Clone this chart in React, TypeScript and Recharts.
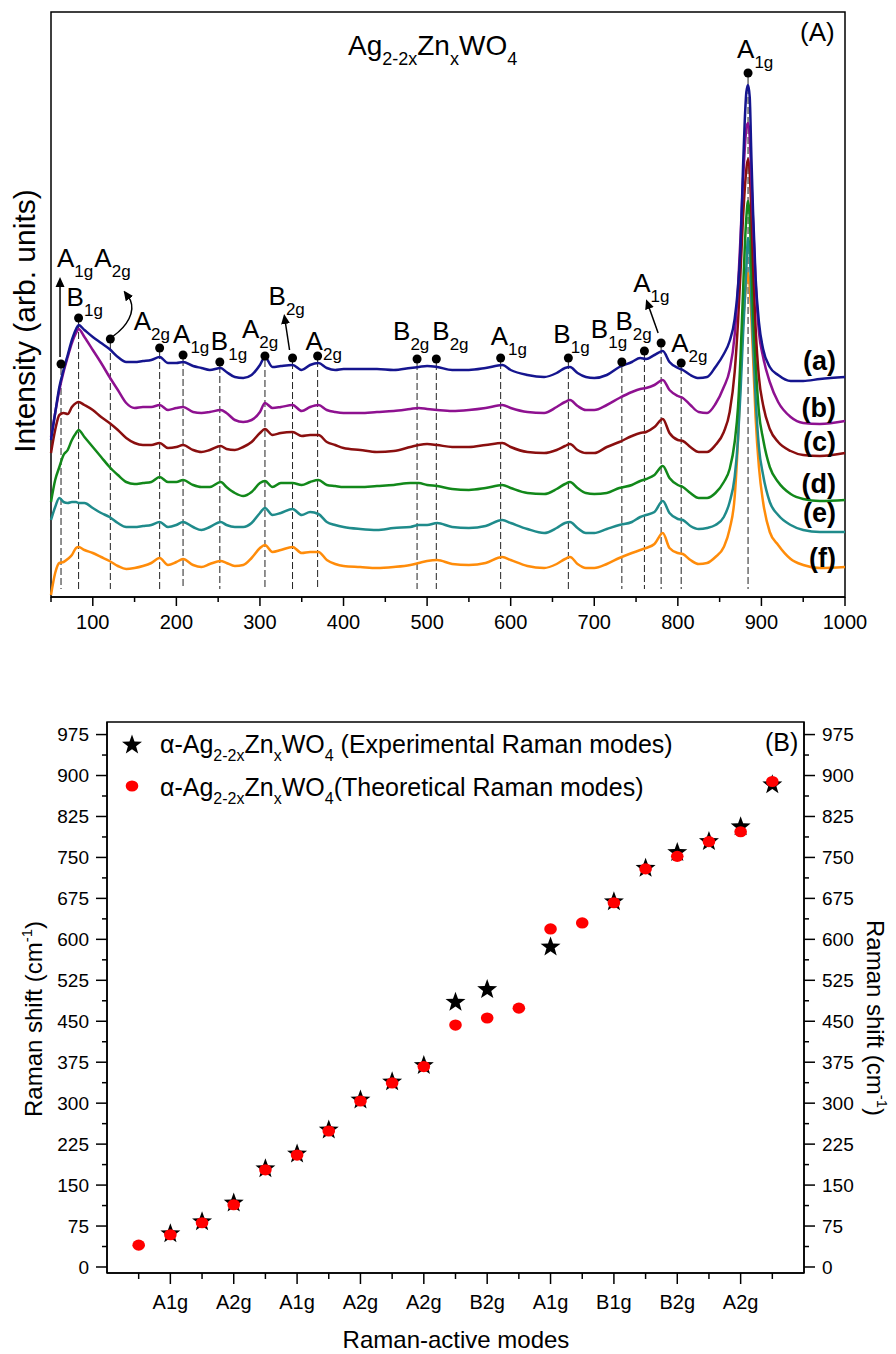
import React from "react"
import {
  LineChart,
  Line,
  XAxis,
  YAxis,
  ReferenceLine,
  ReferenceDot,
  ReferenceArea,
  ScatterChart,
  Scatter,
} from "recharts"

// ---------- panel (A): Raman spectra ----------
const shift = [
  50, 55, 60, 65, 70, 75, 80, 83, 90,
  100, 110, 120, 130, 140, 150, 160, 170, 180, 190, 200,
  208, 220, 230, 240, 253, 260, 270, 280, 290, 300,
  306, 315, 325, 339, 350, 360, 370, 380, 390, 400,
  420, 440, 460, 480, 490, 500, 512, 530, 550, 570,
  590, 600, 620, 640, 655, 665, 671, 680, 690, 700,
  715, 730, 745, 755, 762, 772, 782, 790, 800, 806,
  815, 825, 835, 845, 855, 862, 868, 872, 875, 878,
  880, 882, 884, 886, 888, 890, 893, 897, 902, 910,
  920, 935, 950, 970, 1000,
]

const curveA = [
  157, 184, 210, 227, 242, 257, 268, 272, 267,
  260, 254, 248, 240, 235, 235, 236, 237, 240, 234, 234,
  235, 231, 229, 227, 229, 225, 220, 219, 222, 232,
  240, 230, 231, 232, 227, 232, 234, 229, 227, 228,
  228, 228, 227, 229, 230, 231, 230, 227, 227, 229,
  232, 227, 222, 220, 224, 229, 230, 224, 220, 219,
  222, 230, 235, 239, 238, 242, 246, 235, 229, 227,
  222, 219, 220, 230, 243, 256, 278, 310, 350, 430,
  475, 505, 512, 500, 440, 385, 320, 275, 248, 230,
  222, 216, 216, 218, 220,
]

const curveB = [
  160, 184, 207, 225, 240, 254, 264, 268, 260,
  247, 234, 220, 207, 194, 189, 190, 190, 192, 187, 189,
  190, 185, 184, 185, 187, 184, 177, 175, 177, 185,
  194, 189, 190, 192, 186, 190, 192, 187, 185, 184,
  184, 185, 186, 188, 189, 188, 187, 186, 187, 189,
  192, 189, 185, 184, 190, 195, 197, 191, 187, 187,
  192, 199, 205, 208, 209, 212, 217, 207, 201, 199,
  192, 185, 184, 193, 210, 227, 262, 310, 360, 417,
  447, 469, 474, 460, 417, 375, 315, 265, 240, 215,
  195, 180, 174, 173, 176,
]

const curveC = [
  144, 167, 182, 184, 183, 190, 194, 195, 192,
  187, 180, 174, 167, 159, 154, 152, 152, 154, 149, 150,
  152, 147, 145, 147, 151, 148, 147, 150, 155, 164,
  168, 162, 164, 165, 161, 162, 162, 155, 152, 149,
  147, 145, 146, 150, 152, 153, 152, 150, 150, 152,
  154, 150, 145, 144, 147, 151, 153, 147, 144, 144,
  150, 155, 161, 164, 165, 170, 178, 164, 157, 156,
  150, 145, 145, 152, 165, 185, 225, 275, 325, 380,
  407, 428, 438, 425, 382, 330, 270, 220, 192, 168,
  155, 146, 142, 141, 144,
]

const curveD = [
  95, 117, 130, 142, 147, 157, 164, 167, 160,
  150, 140, 130, 122, 115, 113, 114, 115, 120, 115, 115,
  117, 112, 110, 110, 115, 110, 104, 101, 105, 114,
  116, 110, 114, 114, 112, 115, 117, 112, 111, 110,
  110, 111, 112, 114, 114, 112, 111, 108, 107, 109,
  112, 109, 104, 103, 108, 113, 115, 109, 104, 103,
  104, 109, 112, 116, 118, 122, 131, 119, 112, 110,
  104, 99, 99, 104, 115, 128, 155, 190, 240, 305,
  348, 380, 396, 380, 331, 285, 235, 185, 158, 130,
  115, 103, 98, 96, 97,
]

const curveE = [
  77, 90, 99, 95, 94, 95, 95, 94, 94,
  89, 84, 80, 74, 70, 70, 71, 72, 75, 70, 72,
  75, 70, 67, 70, 75, 72, 70, 70, 74, 84,
  89, 82, 84, 88, 82, 85, 83, 75, 72, 70,
  68, 67, 69, 70, 72, 72, 74, 70, 69, 71,
  77, 74, 68, 64, 69, 74, 75, 69, 64, 64,
  68, 72, 75, 80, 82, 85, 96, 84, 78, 77,
  71, 68, 69, 72, 80, 95, 120, 158, 205, 262,
  295, 330, 359, 345, 296, 255, 200, 150, 122, 95,
  82, 72, 67, 65, 65,
]

const curveF = [
  2, 24, 34, 35, 38, 42, 49, 50, 47,
  44, 40, 36, 31, 28, 29, 31, 34, 39, 32, 35,
  38, 32, 30, 33, 36, 34, 31, 32, 39, 49,
  52, 45, 47, 50, 44, 45, 45, 37, 33, 31,
  30, 29, 30, 32, 34, 36, 37, 33, 32, 34,
  40, 37, 31, 29, 33, 38, 40, 33, 29, 29,
  33, 39, 44, 47, 49, 53, 64, 49, 44, 43,
  37, 33, 34, 40, 50, 68, 100, 158, 220, 275,
  296, 315, 324, 310, 280, 240, 180, 130, 95, 65,
  52, 38, 32, 29, 30,
]

const shiftTicks = [50, 100, 150, 200, 250, 300, 350, 400, 450, 500, 550, 600, 650, 700, 750, 800, 850, 900, 950, 1000]

// assigned modes marked on spectrum (a)
const modeShift = [62, 83, 121, 180, 208, 252, 306, 339, 369, 488, 511, 588, 669, 733, 760, 780, 804, 884]
const modeMark = [233, 279, 258, 249, 242, 235, 241, 239, 241, 238, 238, 239, 239, 235, 246, 254, 234, 524]
const modeName = ["A1g", "B1g", "A2g", "A2g", "A1g", "B1g", "A2g", "B2g", "A2g", "B2g", "B2g", "A1g", "B1g", "B1g", "B2g", "A1g", "A2g", "A1g"]

// ---------- panel (B): experimental vs theoretical ----------
const modeTickLabels = ["A1g", "A2g", "A1g", "A2g", "A2g", "B2g", "A1g", "B1g", "B2g", "A2g"]
const theoIndex = [1, 2, 3, 4, 5, 6, 7, 8, 9, 10, 11, 12, 13, 14, 15, 16, 17, 18, 19, 20, 21]
const theoShift = [40, 59, 81, 114, 178, 205, 249, 304, 337, 367, 443, 456, 474, 619, 630, 667, 729, 752, 779, 797, 889]
const expIndex = [2, 3, 4, 5, 6, 7, 8, 9, 10, 11, 12, 14, 16, 17, 18, 19, 20, 21]
const expShift = [61, 83, 117, 180, 207, 251, 306, 339, 369, 485, 508, 586, 669, 730, 759, 779, 806, 883]
const shiftAxisTicks = [0, 37.5, 75, 112.5, 150, 187.5, 225, 262.5, 300, 337.5, 375, 412.5, 450, 487.5, 525, 562.5, 600, 637.5, 675, 712.5, 750, 787.5, 825, 862.5, 900, 937.5, 975]
const modeAxisTicks = [1, 2, 3, 4, 5, 6, 7, 8, 9, 10, 11, 12, 13, 14, 15, 16, 17, 18, 19, 20, 21]

const spectra = shift.map((x, i) => ({
  x,
  a: curveA[i],
  b: curveB[i],
  c: curveC[i],
  d: curveD[i],
  e: curveE[i],
  f: curveF[i],
}))
const theoData = theoIndex.map((x, i) => ({ x, y: theoShift[i] }))
const expData = expIndex.map((x, i) => ({ x, y: expShift[i] }))

const FONT = "'Liberation Sans', Arial, Helvetica, sans-serif"
const colors = { a: "#15158f", b: "#8e1190", c: "#8a0f0f", d: "#12881a", e: "#1f8b8b", f: "#ff8c0a" }

// label placement for the mode annotations (pixel offsets from each dot)
const labelOffset = [
  [-4, -97], [-12, -12], [-16, -72], [-26, -18], [-10, -12], [-9, -12], [-23, -18], [-24, -53], [-12, -6],
  [-24, -19], [-4, -19], [-10, -13], [-15, -15], [-31, -24], [-29, -21], [-28, -51], [-10, -11], [-11, -15],
]
const arrowPath: Record<number, string> = {
  0: "M -1 -7 L -1 -84",
  2: "M 3 -3 C 17 -13 25 -27 20 -39 L 15 -46",
  7: "M -3 -8 L -8 -41",
  15: "M -3 -10 L -14 -41",
}

function ModeMark(props: any) {
  const { cx, cy, idx } = props
  if (cx == null || cy == null) return null
  const name: string = modeName[idx]
  const [dx, dy] = labelOffset[idx]
  const arrow = arrowPath[idx]
  return (
    <g>
      {arrow && (
        <>
          <defs>
            <marker id={`ah${idx}`} markerWidth={10} markerHeight={10} refX={7} refY={5} orient="auto" markerUnits="userSpaceOnUse">
              <path d="M0,0.5 L10,5 L0,9.5 z" fill="#000" />
            </marker>
          </defs>
          <path
            d={arrow}
            transform={`translate(${cx},${cy})`}
            fill="none"
            stroke="#000"
            strokeWidth={1.5}
            markerEnd={`url(#ah${idx})`}
          />
        </>
      )}
      <circle cx={cx} cy={cy} r={4.5} fill="#000" />
      <text x={cx + dx} y={cy + dy} fontSize={26} fill="#000" fontFamily={FONT}>
        {name[0]}
        <tspan dy={10} fontSize={17}>{name.slice(1)}</tspan>
      </text>
    </g>
  )
}

function TopTick(props: any) {
  const { x, y, payload } = props
  const v = payload.value
  const major = v % 100 === 0
  return (
    <g>
      <line x1={x} y1={y} x2={x} y2={y + (major ? 9 : 5)} stroke="#000" strokeWidth={1.5} />
      {major && (
        <text x={x} y={y + 32} textAnchor="middle" fontSize={20} fill="#000" fontFamily={FONT}>
          {v}
        </text>
      )}
    </g>
  )
}

function ModeTick(props: any) {
  const { x, y, payload } = props
  const v = payload.value
  const major = v % 2 === 0
  return (
    <g>
      <line x1={x} y1={y} x2={x} y2={y + (major ? 11 : 6)} stroke="#000" strokeWidth={1.5} />
      {major && (
        <text x={x} y={y + 36} textAnchor="middle" fontSize={20} fill="#000" fontFamily={FONT}>
          {modeTickLabels[v / 2 - 1]}
        </text>
      )}
    </g>
  )
}

function LeftTick(props: any) {
  const { x, y, payload } = props
  const v = payload.value
  const major = v % 75 === 0
  return (
    <g>
      <line x1={x - (major ? 11 : 5)} y1={y} x2={x} y2={y} stroke="#000" strokeWidth={1.5} />
      {major && (
        <text x={x - 18} y={y} dy="0.36em" textAnchor="end" fontSize={19} fill="#000" fontFamily={FONT}>
          {v}
        </text>
      )}
    </g>
  )
}

function RightTick(props: any) {
  const { x, y, payload } = props
  const v = payload.value
  const major = v % 75 === 0
  return (
    <g>
      <line x1={x} y1={y} x2={x + (major ? 11 : 5)} y2={y} stroke="#000" strokeWidth={1.5} />
      {major && (
        <text x={x + 18} y={y} dy="0.36em" textAnchor="start" fontSize={19} fill="#000" fontFamily={FONT}>
          {v}
        </text>
      )}
    </g>
  )
}

function starPoints(cx: number, cy: number, R: number, r: number) {
  const pts: string[] = []
  for (let k = 0; k < 10; k++) {
    const ang = -Math.PI / 2 + (k * Math.PI) / 5
    const rad = k % 2 === 0 ? R : r
    pts.push(`${cx + rad * Math.cos(ang)},${cy + rad * Math.sin(ang)}`)
  }
  return pts.join(" ")
}

const StarShape = (props: any) => <polygon points={starPoints(props.cx, props.cy, 10.5, 4.3)} fill="#000" />
const RedDot = (props: any) => <ellipse cx={props.cx} cy={props.cy} rx={6.3} ry={5.6} fill="#ff0000" />

function Formula({ x, y, size, sub, tail }: { x: number; y: number; size: number; sub: number; tail: string }) {
  return (
    <text x={x} y={y} fontSize={size} fill="#000" fontFamily={FONT}>
      α-Ag<tspan dy={8} fontSize={sub}>2-2x</tspan>
      <tspan dy={-8}>Zn</tspan>
      <tspan dy={8} fontSize={sub}>x</tspan>
      <tspan dy={-8}>WO</tspan>
      <tspan dy={8} fontSize={sub}>4</tspan>
      <tspan dy={-8}>{tail}</tspan>
    </text>
  )
}

export default function App() {
  return (
    <div style={{ position: "absolute", left: 0, top: 0, width: 896, height: 1354, background: "#fff", fontFamily: FONT }}>
      {/* (A) spectra */}
      <div style={{ position: "absolute", left: 0, top: 0 }}>
        <LineChart width={896} height={645} data={spectra} margin={{ top: 12, right: 51, bottom: 8, left: 51 }}>
          <XAxis
            dataKey="x"
            type="number"
            domain={[50, 1000]}
            ticks={shiftTicks}
            interval={0}
            height={40}
            tickSize={0}
            tickMargin={0}
            tickLine={false}
            axisLine={{ stroke: "#000", strokeWidth: 1.5 }}
            tick={(p: any) => <TopTick {...p} />}
          />
          <YAxis type="number" domain={[0, 585]} hide />
          <ReferenceArea x1={50} x2={1000} y1={0} y2={585} fill="none" stroke="#000" strokeWidth={1.5} ifOverflow="visible" />
          {modeShift.map((m, i) => (
            <ReferenceLine
              key={`dl${i}`}
              segment={[{ x: m, y: modeMark[i] - 4 }, { x: m, y: 8 }]}
              stroke="#222"
              strokeWidth={1}
              strokeDasharray="7 3"
              ifOverflow="visible"
            />
          ))}
          <Line type="monotone" dataKey="f" stroke={colors.f} strokeWidth={2.5} dot={false} isAnimationActive={false} />
          <Line type="monotone" dataKey="e" stroke={colors.e} strokeWidth={2.5} dot={false} isAnimationActive={false} />
          <Line type="monotone" dataKey="d" stroke={colors.d} strokeWidth={2.5} dot={false} isAnimationActive={false} />
          <Line type="monotone" dataKey="c" stroke={colors.c} strokeWidth={2.5} dot={false} isAnimationActive={false} />
          <Line type="monotone" dataKey="b" stroke={colors.b} strokeWidth={2.5} dot={false} isAnimationActive={false} />
          <Line type="monotone" dataKey="a" stroke={colors.a} strokeWidth={2.5} dot={false} isAnimationActive={false} />
          {modeShift.map((m, i) => (
            <ReferenceDot
              key={`md${i}`}
              x={m}
              y={modeMark[i]}
              r={4.5}
              ifOverflow="visible"
              shape={(p: any) => <ModeMark {...p} idx={i} />}
            />
          ))}
        </LineChart>
      </div>

      {/* (B) experimental vs theoretical */}
      <div style={{ position: "absolute", left: 0, top: 700 }}>
        <ScatterChart width={896} height={660} margin={{ top: 22, right: 32, bottom: 27, left: 47 }}>
          <XAxis
            dataKey="x"
            type="number"
            domain={[0, 22]}
            ticks={modeAxisTicks}
            interval={0}
            height={60}
            tickSize={0}
            tickMargin={0}
            tickLine={false}
            axisLine={{ stroke: "#000", strokeWidth: 1.5 }}
            tick={(p: any) => <ModeTick {...p} />}
          />
          <YAxis
            yAxisId="l"
            dataKey="y"
            type="number"
            domain={[-11, 998]}
            ticks={shiftAxisTicks}
            interval={0}
            width={60}
            tickSize={0}
            tickMargin={0}
            tickLine={false}
            axisLine={{ stroke: "#000", strokeWidth: 1.5 }}
            tick={(p: any) => <LeftTick {...p} />}
          />
          <YAxis
            yAxisId="r"
            orientation="right"
            dataKey="y"
            type="number"
            domain={[-11, 998]}
            ticks={shiftAxisTicks}
            interval={0}
            width={60}
            tickSize={0}
            tickMargin={0}
            tickLine={false}
            axisLine={{ stroke: "#000", strokeWidth: 1.5 }}
            tick={(p: any) => <RightTick {...p} />}
          />
          <ReferenceArea yAxisId="l" x1={0} x2={22} y1={-11} y2={998} fill="none" stroke="#000" strokeWidth={1.5} ifOverflow="visible" />
          <Scatter yAxisId="l" data={expData} shape={StarShape} isAnimationActive={false} />
          <Scatter yAxisId="r" data={theoData} shape={RedDot} isAnimationActive={false} />
        </ScatterChart>
      </div>

      {/* static texts */}
      <svg width={896} height={1354} style={{ position: "absolute", left: 0, top: 0, pointerEvents: "none" }}>
        <text x={348} y={55} fontSize={28} fill="#000" fontFamily={FONT}>
          Ag<tspan dy={10} fontSize={18}>2-2x</tspan>
          <tspan dy={-10}>Zn</tspan>
          <tspan dy={10} fontSize={18}>x</tspan>
          <tspan dy={-10}>WO</tspan>
          <tspan dy={10} fontSize={18}>4</tspan>
        </text>
        <text x={800} y={41} fontSize={26} fill="#000" fontFamily={FONT}>(A)</text>
        <text transform="translate(35,321) rotate(-90)" textAnchor="middle" fontSize={30} fill="#000" fontFamily={FONT}>
          Intensity (arb. units)
        </text>
        {[
          ["(a)", 370],
          ["(b)", 417],
          ["(c)", 451],
          ["(d)", 493],
          ["(e)", 522],
          ["(f)", 567],
        ].map(([t, y]) => (
          <text key={t as string} x={836} y={y as number} textAnchor="end" fontSize={27} fontWeight="bold" fill="#000" fontFamily={FONT}>
            {t}
          </text>
        ))}

        <polygon points={starPoints(132, 745, 10.5, 4.3)} fill="#000" />
        <Formula x={160} y={753} size={25} sub={16} tail=" (Experimental Raman modes)" />
        <ellipse cx={132} cy={786} rx={6.3} ry={5.6} fill="#ff0000" />
        <Formula x={160} y={796} size={25} sub={16} tail="(Theoretical Raman modes)" />
        <text x={765} y={751} fontSize={25} fill="#000" fontFamily={FONT}>(B)</text>

        <text transform="translate(42,1019) rotate(-90)" textAnchor="middle" fontSize={24} fill="#000" fontFamily={FONT}>
          Raman shift (cm<tspan dy={-10} fontSize={15}>-1</tspan>
          <tspan dy={10}>)</tspan>
        </text>
        <text transform="translate(867,1018) rotate(90)" textAnchor="middle" fontSize={24} fill="#000" fontFamily={FONT}>
          Raman shift (cm<tspan dy={-10} fontSize={15}>-1</tspan>
          <tspan dy={10}>)</tspan>
        </text>
        <text x={456} y={1348} textAnchor="middle" fontSize={24} fill="#000" fontFamily={FONT}>
          Raman-active modes
        </text>
      </svg>
    </div>
  )
}
